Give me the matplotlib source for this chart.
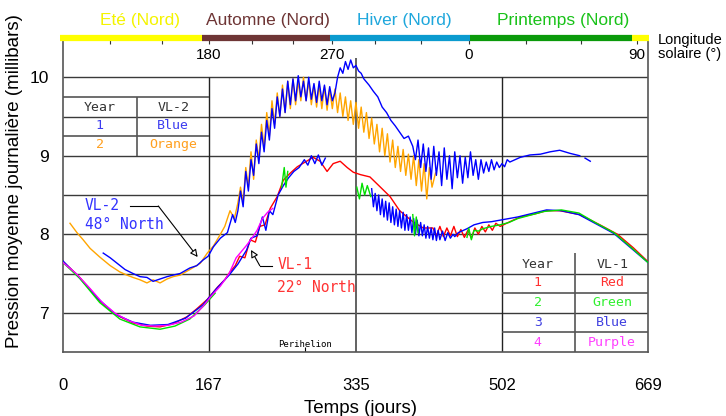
import numpy as np
import matplotlib.pyplot as plt

nan = np.nan

# --- VL-2 (48 N), annee 1 (bleu) et annee 2 (orange)
vl2_y1_day = [46, 54, 62, 71, 80, 88, 96, 103, 111, 119, 126, 134, 145, 153, 160, 166,
              172, 180, 188, 194, 197,
              200, 203, 206, 209, 212, 215, 218, 221, 224, 227, 230, 233, 236, 239, 242,
              245, 248, 251, 254, 257, 260, 263, 266, 269, 272, 275, 278, 281, 284, 287,
              290, 293, 296, 299, 302, 305, 308, 311, 314, 317, 320, 323, 326, 329, 332,
              335, 338, 341, 344, 350, 355, 360, 365, 370, 375, 380, 385, 390, 395, 400,
              403, 406, 409, 412, 415, 418, 421, 424, 427, 430, 433, 436, 439, 442, 445,
              448, 451, 454, 457, 460, 463, 466, 469, 472, 475, 478, 481, 484, 487, 490,
              493, 496, 499, 502, 505, 508, 511, 523, 534, 546, 557, 568, 580, 591, 594,
              597, 603]
vl2_y1_p = [7.76, 7.70, 7.63, 7.55, 7.50, 7.46, 7.45, 7.40, 7.43, 7.46, 7.48, 7.50, 7.57,
            7.60, 7.67, 7.72, 7.84, 7.95, 8.02, 8.25, 8.15,
            8.30, 8.55, 8.35, 8.80, 8.55, 8.95, 8.75, 9.15, 8.90, 9.30, 9.05, 9.45, 9.20,
            9.60, 9.35, 9.75, 9.50, 9.85, 9.55, 9.95, 9.65, 9.98, 9.70, 10.02, 9.75, 9.95,
            9.70, 10.00, 9.72, 9.92, 9.68, 9.95, 9.70, 9.90, 9.65, 9.88, 9.70, 9.80, 10.00,
            10.12, 10.05, 10.20, 10.10, 10.22, 10.12, 10.15, 10.08, 10.05, 9.98, 9.90, 9.82,
            9.75, 9.62, 9.55, 9.45, 9.38, 9.30, 9.22, 9.25, 9.12,
            8.95, 9.20, 8.85, 9.15, 8.80, 9.10, 8.70, 9.12, 8.75, 9.05, 8.62, 9.10, 8.70,
            9.00, 8.58, 9.05, 8.72, 9.00, 8.65, 8.98, 8.72, 9.05, 8.75, 8.95, 8.70, 8.95,
            8.78, 8.92, 8.80, 8.95, 8.82, 8.92, 8.85, 8.90, 8.86, 8.95, 8.92, 8.98, 9.01,
            9.02, 9.05, 9.07, 9.03, 9.00, nan, 8.97, 8.93]

vl2_y2_day = [8, 16, 23, 31, 42, 54, 65, 73, 80, 88, 96, 103, 111, 119, 126, 134, 145, 157,
              165, 172, 180, 185, 191, 196,
              200, 203, 206, 209, 212, 215, 218, 221, 224, 227, 230, 233, 236, 239, 242,
              245, 248, 251, 254, 257, 260, 263, 266, 269, 272, 275, 278, 281, 284, 287,
              290, 293, 296, 299, 302, 305, 308, 311, 314, 317, 320, 323, 326, 329, 332,
              335, 338, 341, 344, 347, 350, 353, 356, 359, 362, 365, 368, 371, 374, 377,
              380, 383, 386, 389, 392, 395, 398, 401, 404, 407, 410, 413, 416, 419, 422,
              426]
vl2_y2_p = [8.14, 8.02, 7.93, 7.82, 7.71, 7.60, 7.52, 7.48, 7.45, 7.42, 7.38, 7.42, 7.38,
            7.43, 7.46, 7.48, 7.55, 7.63, 7.76, 7.85, 8.00, 8.10, 8.30, 8.20,
            8.40, 8.60, 8.40, 8.85, 8.60, 9.05, 8.70, 9.20, 8.95, 9.40, 9.10, 9.55, 9.25,
            9.70, 9.40, 9.80, 9.50, 9.90, 9.55, 9.95, 9.60, 9.98, 9.65, 9.95, 9.70, 10.00,
            9.70, 9.95, 9.65, 9.90, 9.62, 9.90, 9.60, 9.88, 9.58, 9.85, 9.60, 9.85, 9.55,
            9.80, 9.50, 9.75, 9.45, 9.70, 9.40, 9.68, 9.35, 9.62, 9.30, 9.55, 9.22, 9.48,
            9.15, 9.40, 9.05, 9.35, 9.00, 9.28, 8.92, 9.20, 8.85, 9.12, 8.80, 9.08, 8.75,
            9.02, 8.70, 9.00, 8.62, 8.95, 8.55, 8.90, 8.45, 8.85, 8.60, 8.78]

# --- VL-1 (22 N), annees 1 a 4
vl1_y1_day = [0, 8, 19, 31, 42, 54, 65, 80, 96, 111, 126, 142, 153, 165, 177, 185, 191,
              197, 202, 208, 214, 220, 225, 231, 237, 245, 252, 260, 268, 277, 286, 294,
              302, 309, 317, 325, 332, 340, 351, 363, 374, 385, 400, 412, 423, 427, 431,
              435, 439, 443, 447, 451, 455, 459, 463, 467, 471, 475, 479, 483, 487, 491,
              495, 500, 511, 523, 540, 553, 568, 591, 614, 634, 652, 669]
vl1_y1_p = [7.65, 7.57, 7.45, 7.30, 7.15, 7.03, 6.95, 6.87, 6.83, 6.82, 6.86, 6.95, 7.05,
            7.17, 7.33, 7.42, 7.52, 7.60, 7.72, 7.70, 7.93, 7.90, 8.10, 8.12, 8.33, 8.48,
            8.69, 8.78, 8.86, 8.92, 8.98, 8.93, 8.80, 8.90, 8.93, 8.85, 8.79, 8.76, 8.73,
            8.60, 8.48, 8.30, 8.16, 8.08, 8.08, 7.98, 8.10, 7.97, 8.08, 7.98, 8.10, 7.97,
            8.06, 7.96, 8.05, 7.95, 8.08, 8.00, 8.10, 8.03, 8.12, 8.05, 8.14, 8.10, 8.16,
            8.22, 8.26, 8.30, 8.30, 8.25, 8.12, 8.00, 7.83, 7.65]

vl1_y2_day = [0, 19, 42, 65, 88, 111, 128, 145, 162, 174, nan, 250, 253, 255, 257, nan,
              336, 339, 342, 345, 348, 352, nan, 400, 402, 404, 406, nan, 462, 464, 467,
              470, 475, 480, 490, 500, 510, 520, 530, 540, 550, 570, 590, 610, 630, 650, 669]
vl1_y2_p = [7.64, 7.44, 7.13, 6.92, 6.82, 6.79, 6.83, 6.92, 7.10, 7.25, nan, 8.60, 8.85,
            8.60, 8.80, nan, 8.60, 8.45, 8.65, 8.50, 8.62, 8.48, nan, 8.25, 7.98, 8.22,
            8.02, nan, 7.96, 8.08, 7.93, 8.05, 8.04, 8.07, 8.10, 8.12, 8.15, 8.20, 8.23,
            8.26, 8.29, 8.31, 8.27, 8.14, 8.02, 7.83, 7.64]

vl1_y3_day = [0, 20, 40, 60, 80, 100, 120, 140, 160, 175, 190, 200, 210, 215, 222, 228,
              232, 236, 240, 246, 252, 258, 264, 270, 276, 280, 284, 288, 292, 296, 300,
              nan, 353, 355, 357, 359, 361, 363, 365, 367, 369, 371, 373, 375, 377, 379,
              381, 383, 385, 387, 389, 391, 393, 395, 397, 399, 401, 403, 405, 407, 409,
              411, 413, 415, 417, 419, 421, 423, 425, 427, 429, 431, 434, 437, 440, 443,
              446, 448, 452, 462, 470, 480, 490, 500, 510, 520, 553, 570, 590, 610, 630,
              650, 669]
vl1_y3_p = [7.66, 7.43, 7.18, 6.98, 6.88, 6.84, 6.85, 6.93, 7.10, 7.30, 7.48, 7.62, 7.80,
            7.95, 7.98, 8.22, 8.05, 8.30, 8.25, 8.50, 8.62, 8.72, 8.80, 8.85, 8.95, 8.88,
            9.00, 8.90, 9.01, 8.88, 8.97,
            nan, 8.58, 8.35, 8.52, 8.30, 8.50, 8.25, 8.45, 8.22, 8.42, 8.18, 8.40, 8.15,
            8.35, 8.12, 8.32, 8.10, 8.30, 8.08, 8.28, 8.05, 8.25, 8.05, 8.22, 8.02, 8.20,
            8.00, 8.18, 7.98, 8.15, 7.98, 8.12, 7.95, 8.10, 7.95, 8.08, 7.93, 8.08, 7.92,
            8.05, 7.93, 8.04, 7.92, 8.02, 7.95, 8.00, 7.97, 8.02, 8.07, 8.12, 8.15, 8.16,
            8.18, 8.20, 8.22, 8.31, 8.30, 8.25, 8.13, 8.01, 7.82, 7.64]

vl1_y4_day = [0, 15, 30, 45, 60, 75, 90, 105, 120, 135, 150, 160, 170, 180, 190, 198,
              204, 210, 216, 222, 228, 234, 240]
vl1_y4_p = [7.64, 7.50, 7.32, 7.13, 6.99, 6.90, 6.84, 6.83, 6.84, 6.88, 6.96, 7.08, 7.22,
            7.34, 7.50, 7.70, 7.78, 7.86, 7.95, 8.05, 8.20, 8.28, 8.33]

# axes / graduations
x_ticks = [0, 167, 335, 502, 669]
y_ticks = [7, 8, 9, 10]
grid_p = [7, 7.5, 8, 8.5, 9, 9.5, 10]

# longitude solaire (axe du haut)
ls_tick_days = [54, 113, 167, 216, 263, 308, 357, 409, 464, 529, 592, 656]
ls_label_days = [167, 308, 464, 656]
ls_labels = ["180", "270", "0", "90"]

seasons = ["Eté (Nord)", "Automne (Nord)", "Hiver (Nord)", "Printemps (Nord)"]
season_edges = [-4, 159, 305, 465, 651, 670]
season_bar_col = ["#ffff00", "#6e3535", "#0b9bcf", "#0a9a0a", "#ffff00"]
season_txt_col = ["#f4f400", "#6e3535", "#1ea7dc", "#19c219"]
season_txt_day = [88, 234, 390, 572]

sans = "Liberation Sans"
mono = "DejaVu Sans Mono"

fig = plt.figure(figsize=(7.26, 4.16), dpi=100)
ax = fig.add_axes([63 / 726, 64 / 416, 585 / 726, 314 / 416])
ax.set_xlim(0, 669)
ax.set_ylim(6.5, 10.5)

# grille
ax.hlines(grid_p, 0, 669, color="#3a3a3a", lw=1, zorder=1)
ax.vlines([167, 502], 6.5, 10, color="#222222", lw=1, zorder=1)
ax.vlines(335, 6.5, 10.24, color="#555555", lw=1.3, zorder=1)

# tableau VL-2
ax.hlines([9.75, 9.25], 0, 167, color="#555555", lw=1.2, zorder=1)
ax.vlines(84.6, 9.0, 9.75, color="#555555", lw=1.2, zorder=1)
# tableau VL-1
ax.hlines([7.25, 6.75], 502, 669, color="#555555", lw=1.2, zorder=1)
ax.vlines(585.5, 6.5, 7.76, color="#555555", lw=1.2, zorder=1)

# courbes
ax.plot(vl2_y2_day, vl2_y2_p, color="#ffa500", lw=1, zorder=3)
ax.plot(vl2_y1_day, vl2_y1_p, color="#0000ff", lw=1, zorder=3)
ax.plot(vl1_y1_day, vl1_y1_p, color="#ff0000", lw=1, zorder=3)
ax.plot(vl1_y3_day, vl1_y3_p, color="#0000ff", lw=1, zorder=3)
ax.plot(vl1_y2_day, vl1_y2_p, color="#00e000", lw=1, zorder=3)
ax.plot(vl1_y4_day, vl1_y4_p, color="#ff00ff", lw=1, zorder=3)

# textes des tableaux
tk = dict(family=mono, fontsize=9.5, ha="center", va="center")
ax.text(42, 9.62, "Year", color="#333333", **tk)
ax.text(126, 9.62, "VL-2", color="#333333", **tk)
ax.text(42, 9.38, "1", color="#3c3cf0", **tk)
ax.text(126, 9.38, "Blue", color="#3c3cf0", **tk)
ax.text(42, 9.14, "2", color="#ffa020", **tk)
ax.text(126, 9.14, "Orange", color="#ffa020", **tk)

ax.text(543, 7.61, "Year", color="#333333", **tk)
ax.text(628, 7.61, "VL-1", color="#333333", **tk)
ax.text(543, 7.38, "1", color="#ff3030", **tk)
ax.text(628, 7.38, "Red", color="#ff3030", **tk)
ax.text(543, 7.13, "2", color="#30f030", **tk)
ax.text(628, 7.13, "Green", color="#30f030", **tk)
ax.text(543, 6.87, "3", color="#4040e0", **tk)
ax.text(628, 6.87, "Blue", color="#4040e0", **tk)
ax.text(543, 6.62, "4", color="#ff40ff", **tk)
ax.text(628, 6.62, "Purple", color="#ff40ff", **tk)

ax.text(277, 6.59, "Perihelion", family=mono, fontsize=6.5, ha="center", va="center")
ax.vlines(277, 6.5, 6.56, color="k", lw=0.8)

# annotations
ax.text(25, 8.36, "VL-2", family=mono, fontsize=10.5, color="#3333ff", va="center")
ax.text(25, 8.12, "48° North", family=mono, fontsize=10.5, color="#3333ff", va="center")
ax.plot([77, 109], [8.36, 8.36], color="k", lw=0.8)
ax.annotate("", xy=(154, 7.71), xytext=(109, 8.36),
            arrowprops=dict(arrowstyle="-|>", fc="white", ec="black", lw=0.8,
                            mutation_scale=11, shrinkA=0, shrinkB=0))

ax.text(245, 7.61, "VL-1", family=mono, fontsize=10.5, color="#ff3333", va="center")
ax.text(245, 7.32, "22° North", family=mono, fontsize=10.5, color="#ff3333", va="center")
ax.plot([239, 225], [7.60, 7.60], color="k", lw=0.8)
ax.annotate("", xy=(215, 7.80), xytext=(225, 7.60),
            arrowprops=dict(arrowstyle="-|>", fc="white", ec="black", lw=0.8,
                            mutation_scale=11, shrinkA=0, shrinkB=0))

# barre des saisons
for i in range(len(season_edges) - 1):
    ax.plot([season_edges[i], season_edges[i + 1]], [10.5, 10.5], color=season_bar_col[i],
            lw=4.5, solid_capstyle="butt", clip_on=False, zorder=6)
for name, d, c in zip(seasons, season_txt_day, season_txt_col):
    ax.text(d, 10.72, name, color=c, family=sans, fontsize=12.5, ha="center",
            va="center", clip_on=False)

ax.vlines(ls_tick_days, 10.42, 10.48, color="#333333", lw=0.8, zorder=5)
for d, lab in zip(ls_label_days, ls_labels):
    ax.text(d, 10.28, lab, family=sans, fontsize=11, ha="center", va="center")
fig.text(658 / 726, 1 - 40 / 416, "Longitude", family=sans, fontsize=10.5, va="center")
fig.text(658 / 726, 1 - 54 / 416, "solaire (°)", family=sans, fontsize=10.5, va="center")

# axes
ax.set_xticks(x_ticks)
ax.set_xticklabels([str(v) for v in x_ticks], family=sans, fontsize=12)
ax.set_yticks(y_ticks)
ax.set_yticklabels([str(v) for v in y_ticks], family=sans, fontsize=12.5)
ax.tick_params(axis="x", length=0, pad=19)
ax.tick_params(axis="y", length=0, pad=10)
ax.spines["top"].set_visible(False)
for s in ["left", "bottom", "right"]:
    ax.spines[s].set_color("#555555")
    ax.spines[s].set_linewidth(1.2)

fig.text(15 / 726, 1 - 181 / 416, "Pression moyenne journalière (millibars)",
         family=sans, fontsize=13.5, rotation=90, ha="center", va="center")
fig.text(360 / 726, 3 / 416, "Temps (jours)", family=sans, fontsize=13.5,
         ha="center", va="baseline")

fig.savefig("out.png", dpi=100)
